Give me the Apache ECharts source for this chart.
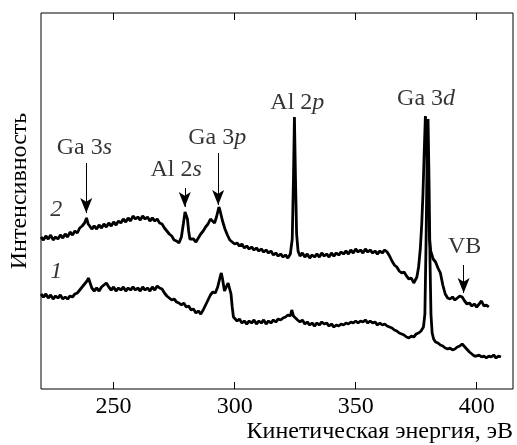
<!DOCTYPE html>
<html>
<head>
<meta charset="utf-8">
<script src="https://cdn.jsdelivr.net/npm/echarts@6/dist/echarts.min.js"></script>
</head>
<body style="margin:0;background:#fff">
<div id="c" style="width:517px;height:445px"></div>
<script>
// X axis ticks (eV)
const xTicks = [250, 300, 350, 400];
const xRange = [220, 415];
const yRange = [0, 376];

// Curve 2 (upper): [kinetic energy eV, intensity a.u.]
const curve2 = [
[220,152],[221,149],[222,153],[223,150],[224,154],[225,149],[226,152],[227,150],[228,154],[229,151],
[230,155],[231,152],[232,157],[233,154],[234,158],[235,156],[236,161],[237,163],[238,166],[238.8,171],
[239.5,165],[240,167],[241,160],[242,163],[243,160],[244,164],[245,161],[246,165],[247,162],[248,166],
[249,163],[250,167],[251,164],[252,168],[253,166],[254,170],[255,167],[256,171],[257,168],[258,173],
[259,170],[260,172],[261,169],[262,173],[263,170],[264,172],[265,168],[266,171],[267,168],[268,170],
[269,166],[270,165],[271,161],[272,158],[273,155],[274,153],[275,149],[276,148],[277,146],[278,152],
[278.8,165],[279.5,177],[280,179],[280.5,170],[281,158],[281.5,150],[282,148],[283,150],[284,147],[285,151],
[286,155],[287,158],[288,162],[289,165],[290,170],[290.8,172],[291.7,166],[292.5,172],[293.5,182],[294,178],
[295,168],[296,160],[297,154],[298,149],[299,147],[300,145],[301,146],[302,143],[303,145],[304,141],
[305,143],[306,140],[307,142],[308,139],[309,141],[310,138],[311,140],[312,137],[313,139],[314,136],
[315,138],[316,134],[317,136],[318,133],[319,135],[320,132],[321,134],[322,131],[323,135],[323.8,150],
[324.3,210],[324.7,272],[325.1,215],[325.6,155],[326.2,138],[327,133],[328,136],[329,132],[330,135],[331,131],
[332,134],[333,132],[334,135],[335,132],[336,136],[337,133],[338,135],[339,132],[340,136],[341,133],
[342,136],[343,134],[344,137],[345,135],[346,138],[347,135],[348,139],[349,136],[350,140],[351,137],
[352,139],[353,136],[354,140],[355,137],[356,139],[357,136],[358,138],[359,135],[360,138],[361,136],
[362,139],[363,137],[364,133],[365,128],[366,124],[367,122],[368,118],[369,116],[370,117],[371,113],
[372,110],[373,111],[374,106],[374.6,105],[375.3,112],[376,122],[376.7,140],[377.3,165],[377.8,195],[378.3,235],
[378.8,273],[379.2,262],[379.6,220],[380,180],[380.5,150],[381,138],[381.5,134],[382,130],[383,127],[384,121],
[385,116],[386,104],[387,95],[388,91],[389,90],[390,92],[391,89],[392,91],[393,93],[394,92],
[395,88],[396,85],[397,86],[398,83],[399,85],[400,82],[401,85],[402,88],[403,83],[404,84],[405,82]
];

// Curve 1 (lower)
const curve1 = [
[220,95],[221,92],[222,95],[223,91],[224,94],[225,90],[226,93],[227,91],[228,94],[229,90],
[230,92],[231,90],[232,93],[233,92],[234,95],[235,96],[236,99],[237,102],[238,105],[239,108],
[239.6,111],[240.3,106],[241,101],[242,98],[243,101],[244,98],[245,102],[246,104],[247,106],[248,102],
[249,99],[250,102],[251,98],[252,101],[253,99],[254,102],[255,98],[256,101],[257,99],[258,102],
[259,99],[260,101],[261,98],[262,102],[263,99],[264,101],[265,98],[266,102],[267,99],[268,103],
[269,101],[270,100],[271,96],[272,93],[273,91],[274,89],[275,90],[276,87],[277,86],[278,84],
[279,86],[280,82],[281,83],[282,79],[283,80],[284,76],[285,78],[286,75],[287,79],[288,84],
[289,89],[290,94],[291,97],[292,96],[293,102],[294,112],[294.5,116],[295,110],[295.8,98],[296.5,100],
[297.3,106],[297.9,108],[298.5,95],[299,82],[299.5,72],[300,70],[301,68],[302,70],[303,66],[304,68],
[305,65],[306,68],[307,66],[308,69],[309,65],[310,68],[311,66],[312,69],[313,65],[314,68],
[315,66],[316,69],[317,67],[318,70],[319,69],[320,71],[321,72],[322,74],[323,73],[323.6,79],
[324.3,73],[325,71],[326,69],[327,67],[328,69],[329,65],[330,67],[331,64],[332,66],[333,63],
[334,66],[335,64],[336,67],[337,65],[338,66],[339,63],[340,65],[341,62],[342,64],[343,63],
[344,65],[345,64],[346,66],[347,65],[348,67],[349,66],[350,68],[351,66],[352,68],[353,67],
[354,69],[355,66],[356,68],[357,66],[358,67],[359,64],[360,66],[361,64],[362,65],[363,63],
[364,62],[365,61],[366,59],[367,58],[368,56],[369,55],[370,54],[371,52],[372,51],[373,53],
[374,52],[375,55],[376,56],[377,58],[378,62],[378.6,75],[379.1,150],[379.5,230],[379.9,270],[380.3,210],
[380.7,130],[381.1,75],[381.6,56],[382.2,50],[383,47],[384,46],[385,44],[386,43],[387,41],[388,40],
[389,41],[390,39],[391,40],[392,42],[393,43],[394,45],[394.8,44],[395.5,41],[396,39],[397,37],
[398,35],[399,33],[400,33],[401,34],[402,32],[403,33],[404,31],[405,33],[406,32],[407,34],
[408,31],[409,33],[410,32]
];

// Annotations: regular part, italic part, position (eV, intensity)
const annoRegular = ['Ga 3', 'Al 2', 'Ga 3', 'Al 2', 'Ga 3', 'VB', '', ''];
const annoItalic  = ['s', 's', 'p', 'p', 'd', '', '2', '1'];
const annoX = [237.9, 275.8, 292.8, 325.9, 379.1, 395.0, 226.3, 226.3];
const annoY = [241, 219, 251, 286, 290, 142, 179, 117];

// Arrows: energy, start intensity, tip intensity
const arrowX  = [238.7, 279.4, 293.2, 394.6];
const arrowY0 = [226, 201, 236, 124];
const arrowY1 = [176, 182, 184, 96];

const FF = 'Liberation Serif';
const FS = 24;
const chart = echarts.init(document.getElementById('c'));

const labelData = annoX.map((x, i) => [x, annoY[i], i]);
const arrowData = arrowX.map((x, i) => [
  {coord: [x, arrowY0[i]]},
  {coord: [x, arrowY1[i]]}
]);

chart.setOption({
  animation: false,
  grid: {left: 41, right: 4, top: 13, bottom: 56, show: true, borderColor: '#000', borderWidth: 1},
  xAxis: [{
    type: 'value', min: xRange[0], max: xRange[1], position: 'bottom',
    axisLine: {show: false},
    splitLine: {show: false},
    axisTick: {show: true, inside: true, length: 7, customValues: xTicks, lineStyle: {color: '#000', width: 1}},
    axisLabel: {color: '#000', fontFamily: FF, fontSize: FS, margin: 6, customValues: xTicks},
    name: 'Кинетическая энергия, эВ', nameLocation: 'end', nameGap: 0,
    nameTextStyle: {color: '#000', fontFamily: FF, fontSize: FS, align: 'right', verticalAlign: 'top', padding: [31, 0, 0, 0]}
  }, {
    type: 'value', min: xRange[0], max: xRange[1], position: 'top',
    axisLine: {show: false},
    splitLine: {show: false},
    axisTick: {show: true, inside: true, length: 7, customValues: xTicks, lineStyle: {color: '#000', width: 1}},
    axisLabel: {show: false}
  }],
  yAxis: {
    type: 'value', min: yRange[0], max: yRange[1],
    axisLine: {show: false}, axisTick: {show: false}, axisLabel: {show: false}, splitLine: {show: false},
    name: 'Интенсивность', nameLocation: 'middle', nameGap: 9, nameRotate: 90,
    nameTextStyle: {color: '#000', fontFamily: FF, fontSize: FS, padding: [0, 0, 0, 20]}
  },
  series: [{
    type: 'line', data: curve2, showSymbol: false, symbol: 'none',
    lineStyle: {color: '#000', width: 2.8}, silent: true
  }, {
    type: 'line', data: curve1, showSymbol: false, symbol: 'none',
    lineStyle: {color: '#000', width: 2.8}, silent: true
  }, {
    type: 'scatter', data: labelData, symbolSize: 1, silent: true,
    itemStyle: {color: 'rgba(0,0,0,0)'},
    label: {
      show: true, position: 'inside', color: '#000', fontFamily: FF, fontSize: FS,
      formatter: p => {
        const i = p.data[2];
        let s = '';
        if (annoRegular[i]) s += '{r|' + annoRegular[i] + '}';
        if (annoItalic[i]) s += '{i|' + annoItalic[i] + '}';
        return s;
      },
      rich: {
        r: {fontFamily: FF, fontSize: FS, color: '#000'},
        i: {fontFamily: FF, fontSize: FS, fontStyle: 'italic', color: '#000'}
      }
    },
    markLine: {
      silent: true, symbol: ['none', 'arrow'], symbolSize: [9, 15], precision: 2,
      lineStyle: {color: '#000', width: 1, type: 'solid'},
      label: {show: false},
      emphasis: {disabled: true},
      data: arrowData
    }
  }]
});
</script>
</body>
</html>
